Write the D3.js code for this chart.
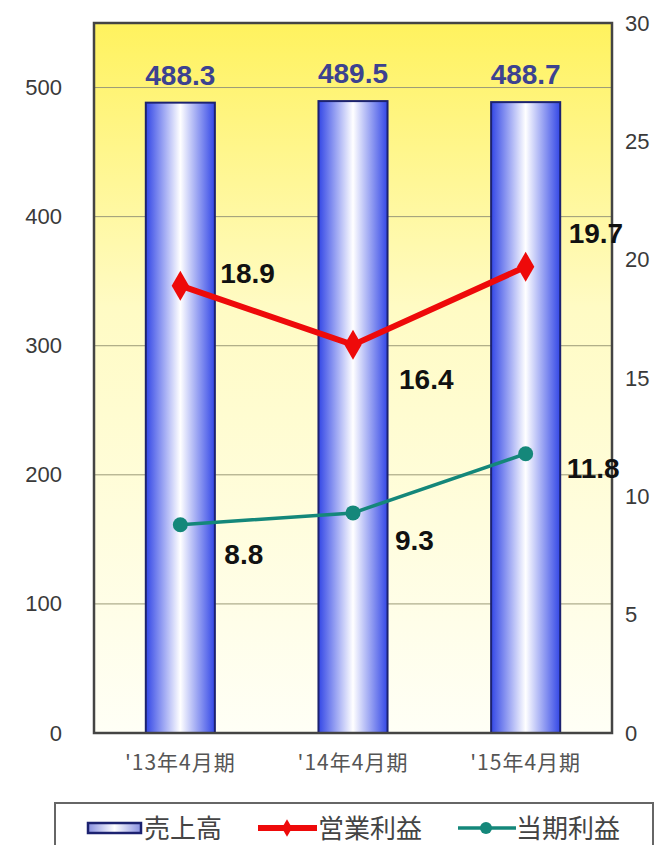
<!DOCTYPE html>
<html>
<head>
<meta charset="utf-8">
<script src="https://cdn.jsdelivr.net/npm/d3@7/dist/d3.min.js"></script>
<style>
  html, body { margin: 0; padding: 0; background: #fff; }
  svg { display: block; }
</style>
</head>
<body>
<svg id="chart" width="664" height="845"></svg>
<script>
// Fiscal periods and results
const periods = ["'13年4月期", "'14年4月期", "'15年4月期"];
const sales = [488.3, 489.5, 488.7];          // 売上高 (left axis)
const operatingProfit = [18.9, 16.4, 19.7];   // 営業利益 (right axis)
const netProfit = [8.8, 9.3, 11.8];           // 当期利益 (right axis)
const leftTicks = [0, 100, 200, 300, 400, 500];
const rightTicks = [0, 5, 10, 15, 20, 25, 30];
const legendLabels = ["売上高", "営業利益", "当期利益"];

const svg = d3.select("#chart");
const font = "'Noto Sans CJK JP', 'Liberation Sans', Arial, sans-serif";
const numFont = "'Liberation Sans', Arial, sans-serif";

const plot = { left: 94, right: 612, top: 23, bottom: 733 };

const x = d3.scaleBand().domain(periods)
  .range([plot.left, plot.right]).paddingInner(0.6).paddingOuter(0.3);
const yL = d3.scaleLinear().domain([0, 550]).range([plot.bottom, plot.top]);
const yR = d3.scaleLinear().domain([0, 30]).range([plot.bottom, plot.top]);

const defs = svg.append("defs");
const bg = defs.append("linearGradient").attr("id", "bg")
  .attr("x1", 0).attr("y1", 0).attr("x2", 0).attr("y2", 1);
bg.append("stop").attr("offset", "0%").attr("stop-color", "#fff25e");
bg.append("stop").attr("offset", "40%").attr("stop-color", "#fffbc4");
bg.append("stop").attr("offset", "100%").attr("stop-color", "#fffff6");

const barGrad = defs.append("linearGradient").attr("id", "barGrad")
  .attr("x1", 0).attr("y1", 0).attr("x2", 1).attr("y2", 0);
barGrad.append("stop").attr("offset", "0%").attr("stop-color", "#3347e6");
barGrad.append("stop").attr("offset", "50%").attr("stop-color", "#ffffff");
barGrad.append("stop").attr("offset", "100%").attr("stop-color", "#3347e6");

// Plot background
svg.append("rect")
  .attr("x", plot.left).attr("y", plot.top)
  .attr("width", plot.right - plot.left).attr("height", plot.bottom - plot.top)
  .attr("fill", "url(#bg)");

// Gridlines at left-axis ticks
svg.append("g").selectAll("line").data(leftTicks.filter(d => d > 0)).join("line")
  .attr("x1", plot.left).attr("x2", plot.right)
  .attr("y1", d => yL(d)).attr("y2", d => yL(d))
  .attr("stroke", "#9b9a78").attr("stroke-width", 1);

// Bars
svg.append("g").selectAll("rect").data(periods).join("rect")
  .attr("x", d => x(d)).attr("width", x.bandwidth())
  .attr("y", (d, i) => yL(sales[i]))
  .attr("height", (d, i) => yL(0) - yL(sales[i]))
  .attr("fill", "url(#barGrad)")
  .attr("stroke", "#1c2270").attr("stroke-width", 2);

// Plot frame
svg.append("rect")
  .attr("x", plot.left).attr("y", plot.top)
  .attr("width", plot.right - plot.left).attr("height", plot.bottom - plot.top)
  .attr("fill", "none").attr("stroke", "#444").attr("stroke-width", 2.5);

// Axes
const leftAxis = svg.append("g")
  .attr("transform", `translate(${plot.left},0)`)
  .call(d3.axisLeft(yL).tickValues(leftTicks).tickSize(0).tickPadding(32));
const rightAxis = svg.append("g")
  .attr("transform", `translate(${plot.right},0)`)
  .call(d3.axisRight(yR).tickValues(rightTicks).tickSize(0).tickPadding(13));
const bottomAxis = svg.append("g")
  .attr("transform", `translate(0,${plot.bottom})`)
  .call(d3.axisBottom(x).tickSize(0).tickPadding(22));
[leftAxis, rightAxis, bottomAxis].forEach(g => {
  g.select(".domain").remove();
  g.selectAll("text").attr("fill", "#3a3a3a").style("font-family", font);
});
leftAxis.selectAll("text").style("font-size", "22px").style("font-family", numFont);
rightAxis.selectAll("text").style("font-size", "22px").style("font-family", numFont);
bottomAxis.selectAll("text").style("font-size", "21px").attr("fill", "#555")
  .style("letter-spacing", "1px");

const cx = d => x(d) + x.bandwidth() / 2;

// Bar value labels
svg.append("g").selectAll("text").data(periods).join("text")
  .attr("x", cx).attr("y", (d, i) => yL(sales[i]) - 18)
  .attr("text-anchor", "middle")
  .attr("fill", "#3c4290")
  .style("font-family", numFont).style("font-weight", "bold").style("font-size", "28px")
  .text((d, i) => sales[i].toFixed(1));

// Operating profit line
const line = d3.line().x(d => cx(d.p)).y(d => yR(d.v));
const opData = periods.map((p, i) => ({ p, v: operatingProfit[i] }));
svg.append("path").datum(opData)
  .attr("d", line).attr("fill", "none")
  .attr("stroke", "#ee0a0a").attr("stroke-width", 6).attr("stroke-linejoin", "miter");
svg.append("g").selectAll("path").data(opData).join("path")
  .attr("transform", d => `translate(${cx(d.p)},${yR(d.v)})`)
  .attr("d", d3.symbol(d3.symbolDiamond, 260)())
  .attr("fill", "#ee0a0a");

// Net profit line
const netData = periods.map((p, i) => ({ p, v: netProfit[i] }));
svg.append("path").datum(netData)
  .attr("d", line).attr("fill", "none")
  .attr("stroke", "#14877a").attr("stroke-width", 3.5);
svg.append("g").selectAll("circle").data(netData).join("circle")
  .attr("cx", d => cx(d.p)).attr("cy", d => yR(d.v)).attr("r", 7.5)
  .attr("fill", "#14877a");

// Line value labels
const opOffsets = [[40, -3], [46, 44], [43, -24]];
const netOffsets = [[44, 39], [42, 37], [41, 24]];
const valueLabel = sel => sel
  .attr("fill", "#111")
  .style("font-family", numFont).style("font-weight", "bold").style("font-size", "28px")
  .text(d => d.v.toFixed(1));
svg.append("g").selectAll("text").data(opData).join("text")
  .attr("x", (d, i) => cx(d.p) + opOffsets[i][0])
  .attr("y", (d, i) => yR(d.v) + opOffsets[i][1])
  .call(valueLabel);
svg.append("g").selectAll("text").data(netData).join("text")
  .attr("x", (d, i) => cx(d.p) + netOffsets[i][0])
  .attr("y", (d, i) => yR(d.v) + netOffsets[i][1])
  .call(valueLabel);

// Legend
const legend = svg.append("g");
legend.append("rect")
  .attr("x", 55).attr("y", 803).attr("width", 598).attr("height", 55)
  .attr("fill", "#fff").attr("stroke", "#666").attr("stroke-width", 2);

const legendGrad = defs.append("linearGradient").attr("id", "legGrad")
  .attr("x1", 0).attr("y1", 0).attr("x2", 1).attr("y2", 0);
legendGrad.append("stop").attr("offset", "0%").attr("stop-color", "#8890e0");
legendGrad.append("stop").attr("offset", "50%").attr("stop-color", "#ffffff");
legendGrad.append("stop").attr("offset", "100%").attr("stop-color", "#8890e0");

const ly = 828;
legend.append("rect")
  .attr("x", 88).attr("y", ly - 5).attr("width", 53).attr("height", 10)
  .attr("fill", "url(#legGrad)").attr("stroke", "#1c2270").attr("stroke-width", 2.5);
legend.append("line")
  .attr("x1", 258).attr("x2", 317).attr("y1", ly).attr("y2", ly)
  .attr("stroke", "#ee0a0a").attr("stroke-width", 6);
legend.append("path")
  .attr("transform", `translate(287,${ly})`)
  .attr("d", d3.symbol(d3.symbolDiamond, 90)()).attr("fill", "#ee0a0a");
legend.append("line")
  .attr("x1", 458).attr("x2", 516).attr("y1", ly).attr("y2", ly)
  .attr("stroke", "#14877a").attr("stroke-width", 3.5);
legend.append("circle")
  .attr("cx", 486).attr("cy", ly).attr("r", 6).attr("fill", "#14877a");

const legendX = [144, 318, 516];
legend.selectAll("text.lbl").data(legendLabels).join("text")
  .attr("class", "lbl")
  .attr("x", (d, i) => legendX[i]).attr("y", ly + 10)
  .attr("fill", "#444")
  .style("font-family", font).style("font-size", "26px")
  .text(d => d);
</script>
</body>
</html>
